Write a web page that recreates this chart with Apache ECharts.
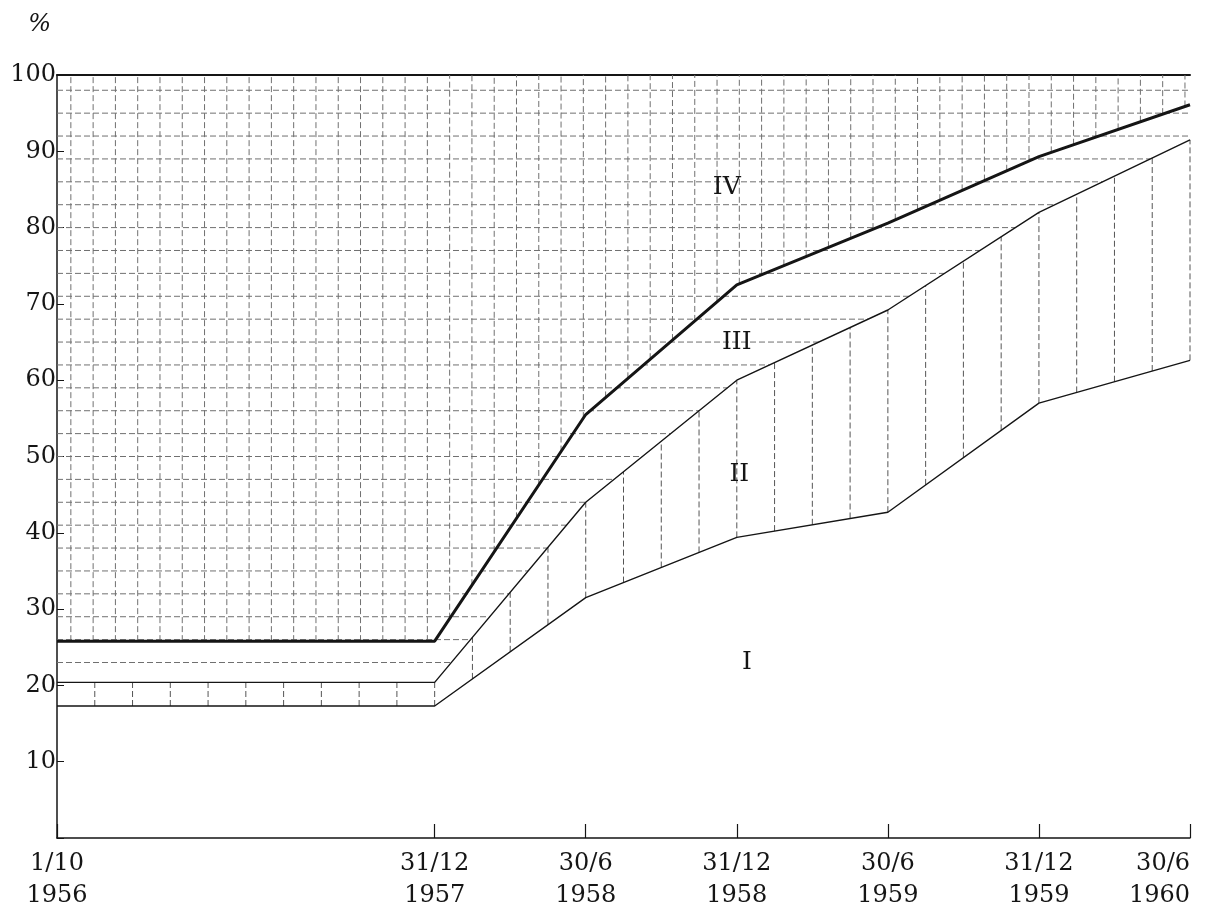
<!DOCTYPE html>
<html><head><meta charset="utf-8">
<script src="https://cdn.jsdelivr.net/npm/echarts@6/dist/echarts.min.js"></script>
<style>html,body{margin:0;padding:0;background:#fff}#c{width:1215px;height:912px}</style>
</head><body><div id="c"></div>
<script>
// ---- data (months since 1/10/1956) ----
const xTickMonths = [0, 15, 21, 27, 33, 39, 45];
const xTickLabels = ['1/10\n1956', '31/12\n1957', '30/6\n1958', '31/12\n1958', '30/6\n1959', '31/12\n1959', '30/6\n1960'];
const yTickValues = [10, 20, 30, 40, 50, 60, 70, 80, 90, 100];
// cumulative % : upper edge of band I, II, III (band IV reaches 100)
const edgeI   = [17.3, 17.3, 31.5, 39.4, 42.7, 57.0, 62.6];
const edgeII  = [20.4, 20.4, 44.0, 60.0, 69.2, 82.0, 91.5];
const edgeIII = [25.8, 25.8, 55.5, 72.5, 80.6, 89.3, 96.1];
const regionNames = ['I', 'II', 'III', 'IV'];
const regionAnchors = [[27.4, 23.0], [27.1, 47.6], [27.0, 65.0], [26.6, 85.2]];

// ---- style constants ----
const FONT = 'DejaVu Serif';
const INK = '#151515';
const HATCH = '#707070';
const H_STEP = 3;          // horizontal ruling, % units
const H_START = 17;
const V_STEP_II = 1.5;     // vertical ruling in band II, months
const V_STEP_IV = 0.885;   // vertical ruling of the squared paper in band IV
const V_START_IV = 0.55;
const XMAX = 45, YMAX = 100;

function valAt(arr, x) {
  for (let i = 0; i < xTickMonths.length - 1; i++) {
    const a = xTickMonths[i], b = xTickMonths[i + 1];
    if (x >= a && x <= b) return arr[i] + (arr[i + 1] - arr[i]) * (x - a) / (b - a);
  }
  return arr[arr.length - 1];
}
function lastXBelow(arr, h) {
  const n = arr.length;
  if (h >= arr[n - 1]) return xTickMonths[n - 1];
  for (let i = n - 2; i >= 0; i--) {
    if (arr[i] <= h && h < arr[i + 1]) {
      return xTickMonths[i] + (h - arr[i]) / (arr[i + 1] - arr[i]) * (xTickMonths[i + 1] - xTickMonths[i]);
    }
  }
  return 0;
}

// ruling segments derived from the band edges
const hatchH = [];
for (let h = H_START; h < YMAX - 0.5; h += H_STEP) {
  if (h <= edgeII[0] + 0.5) continue;
  hatchH.push([0, h, lastXBelow(edgeII, h), h]);
}
const hatchVII = [];
for (let x = V_STEP_II; x <= XMAX + 1e-6; x += V_STEP_II) {
  hatchVII.push([x, valAt(edgeI, x), x, valAt(edgeII, x)]);
}
const hatchVIV = [];
for (let x = V_START_IV; x <= XMAX + 1e-6; x += V_STEP_IV) {
  hatchVIV.push([x, valAt(edgeIII, x), x, YMAX]);
}

function segSeries(name, data, stroke, dash, width) {
  return {
    name, type: 'custom', silent: true, animation: false, z: 1,
    encode: { x: [0, 2], y: [1, 3] },
    data,
    renderItem: (params, api) => {
      const p1 = api.coord([api.value(0), api.value(1)]);
      const p2 = api.coord([api.value(2), api.value(3)]);
      return { type: 'line', shape: { x1: p1[0], y1: p1[1], x2: p2[0], y2: p2[1] },
               style: { stroke, lineWidth: width, lineDash: dash } };
    }
  };
}
function edgeSeries(name, arr, width) {
  return {
    name, type: 'line', symbol: 'none', silent: true, animation: false, z: 3,
    data: xTickMonths.map((m, i) => [m, arr[i]]),
    lineStyle: { color: INK, width }
  };
}

const chart = echarts.init(document.getElementById('c'), null, { renderer: 'canvas' });
chart.setOption({
  backgroundColor: '#ffffff',
  animation: false,
  grid: { left: 57, right: 25, top: 75, bottom: 74, containLabel: false },
  xAxis: [{
    type: 'value', min: 0, max: XMAX,
    axisLine: { lineStyle: { color: INK, width: 1.5 } },
    axisTick: { show: true, inside: true, length: 14, customValues: xTickMonths, lineStyle: { color: INK, width: 1.2 } },
    axisLabel: {
      customValues: xTickMonths,
      formatter: v => { const i = xTickMonths.indexOf(v); return i >= 0 ? xTickLabels[i] : ''; },
      fontFamily: FONT, fontSize: 24, lineHeight: 32, color: INK, margin: 10,
      alignMaxLabel: 'right'
    },
    splitLine: { show: false }
  }, {
    type: 'value', min: 0, max: XMAX, position: 'top',
    axisLine: { show: true, onZero: false, lineStyle: { color: INK, width: 2 } },
    axisTick: { show: false }, axisLabel: { show: false }, splitLine: { show: false }
  }],
  yAxis: {
    type: 'value', min: 0, max: YMAX, interval: 10,
    name: '%', nameLocation: 'end', nameGap: 38,
    nameTextStyle: { fontFamily: FONT, fontSize: 24, fontStyle: 'italic', color: INK, align: 'right', padding: [0, 6, 0, 0] },
    axisLine: { show: true, lineStyle: { color: INK, width: 1.5 } },
    axisTick: { show: true, inside: true, length: 7, lineStyle: { color: INK } },
    axisLabel: {
      formatter: v => (yTickValues.indexOf(v) >= 0 ? String(v) : ''),
      fontFamily: FONT, fontSize: 24, color: INK, margin: 1,
      verticalAlign: 'middle', padding: [0, 0, 12, 0]
    },
    splitLine: { show: false }
  },
  series: [
    segSeries('ruling-III-IV', hatchH, HATCH, [6, 3], 1),
    segSeries('ruling-II', hatchVII, '#555', [6, 3], 1),
    segSeries('ruling-IV', hatchVIV, HATCH, [6, 3], 1),
    edgeSeries('I', edgeI, 1.4),
    edgeSeries('II', edgeII, 1.4),
    edgeSeries('III', edgeIII, 3),
    {
      name: 'labels', type: 'custom', silent: true, animation: false, z: 5,
      data: regionAnchors.map((p, i) => [p[0], p[1], regionNames[i]]),
      renderItem: (params, api) => {
        const p = api.coord([api.value(0), api.value(1)]);
        return { type: 'text', x: p[0], y: p[1],
                 style: { text: regionNames[params.dataIndex], fill: INK, fontFamily: FONT, fontSize: 25,
                          align: 'center', verticalAlign: 'middle' } };
      }
    }
  ]
});
</script>
</body></html>
